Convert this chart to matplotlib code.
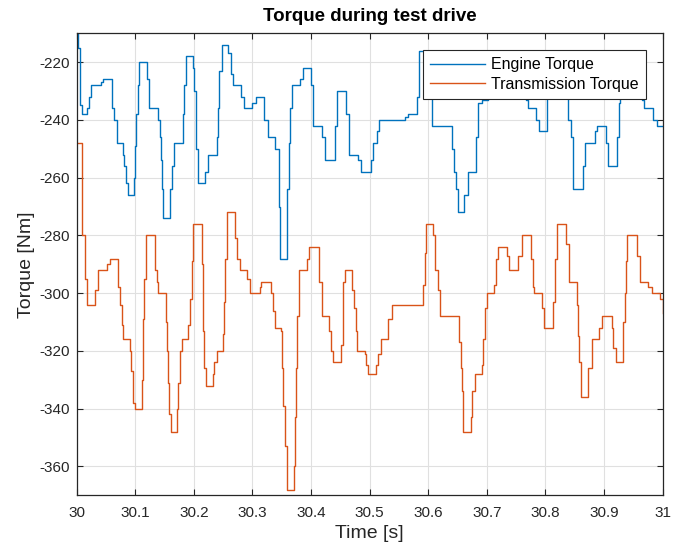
import matplotlib
matplotlib.use("Agg")
import matplotlib.pyplot as plt

# step breakpoints: value holds from each time until the next one
engine_t = [30.000, 30.003, 30.0057, 30.0085, 30.018, 30.021, 30.025, 30.041, 30.045,
            30.061, 30.064, 30.068, 30.0785, 30.081, 30.084, 30.087, 30.097, 30.100,
            30.102, 30.1045, 30.107, 30.1195, 30.124, 30.139, 30.1415, 30.1433, 30.145,
            30.148, 30.159, 30.162, 30.1667, 30.181, 30.1837, 30.1866, 30.198, 30.201,
            30.2036, 30.2076, 30.219, 30.2247, 30.239, 30.2406, 30.243, 30.2474, 30.259,
            30.263, 30.266, 30.280, 30.2855, 30.300, 30.3068, 30.320, 30.3267, 30.3387,
            30.3444, 30.3472, 30.3597, 30.3626, 30.3648, 30.3677, 30.3808, 30.3865,
            30.3995, 30.4035, 30.4189, 30.4234, 30.4405, 30.4445, 30.4604, 30.4644,
            30.4803, 30.486, 30.5014, 30.5048, 30.513, 30.5165, 30.560, 30.566, 30.580,
            30.584, 30.603, 30.606, 30.640, 30.6445, 30.6473, 30.650, 30.661, 30.668,
            30.681, 30.685, 30.691, 30.702, 30.709, 30.722, 30.727, 30.744, 30.748,
            30.762, 30.766, 30.770, 30.783, 30.789, 30.802, 30.806, 30.8205, 30.826,
            30.839, 30.843, 30.8475, 30.8646, 30.868, 30.8845, 30.8874, 30.9033, 30.907,
            30.9226, 30.925, 30.928, 30.940, 30.945, 30.964, 30.968, 30.984, 30.9897, 31.0]
engine_v = [-210, -215, -235, -238, -236, -232, -228, -227, -226,
            -236, -240, -248, -252, -256, -262, -266, -260, -249,
            -238, -228, -220, -226, -236, -240, -246, -254, -264,
            -274, -264, -256, -248, -238, -228, -218, -222, -230,
            -250, -262, -258, -252, -246, -236, -223, -214, -217,
            -224, -228, -232, -236, -234, -232, -240, -246, -250,
            -270, -288, -264, -248, -236, -228, -226, -222,
            -228, -242, -246, -254, -242, -230, -238, -252,
            -254, -258, -254, -248, -244, -240, -239, -238, -232,
            -216, -230, -242, -250, -258, -264, -272, -266, -258,
            -246, -234, -233, -228, -223, -226, -229, -224, -220,
            -226, -233, -236, -240, -244, -230, -216, -222, -230,
            -240, -246, -264, -256, -248, -244, -242, -248, -256,
            -246, -234, -222, -229, -232, -233, -236, -240, -242, -242]

trans_t = [30.000, 30.0097, 30.0148, 30.017, 30.0313, 30.037, 30.0512, 30.0569, 30.0711,
           30.074, 30.0768, 30.0785, 30.091, 30.0927, 30.0967, 30.0995, 30.1109, 30.1126,
           30.1138, 30.1155, 30.1177, 30.1337, 30.1365, 30.1394, 30.1524, 30.1536,
           30.1564, 30.1581, 30.1604, 30.1706, 30.1735, 30.1763, 30.1792, 30.1906,
           30.1934, 30.1962, 30.198, 30.2133, 30.2162, 30.2179, 30.2201, 30.2321,
           30.2349, 30.2389, 30.2503, 30.252, 30.2537, 30.2571, 30.2702, 30.274,
           30.2787, 30.29, 30.2958, 30.3125, 30.315, 30.3324, 30.3353, 30.3392, 30.3495,
           30.3512, 30.3529, 30.3557, 30.3592, 30.3597, 30.370, 30.3717, 30.3734,
           30.3762, 30.3791, 30.3922, 30.3967, 30.4132, 30.4189, 30.4308, 30.4337,
           30.4377, 30.4507, 30.4547, 30.4587, 30.4706, 30.4735, 30.4763, 30.4786,
           30.4917, 30.4945, 30.4974, 30.5116, 30.5144, 30.519, 30.5315, 30.5389,
           30.5912, 30.5941, 30.5969, 30.6083, 30.6111, 30.6168, 30.6197, 30.653,
           30.6553, 30.657, 30.6587, 30.6598, 30.6723, 30.6752, 30.6792, 30.6911,
           30.694, 30.6968, 30.6996, 30.7122, 30.7156, 30.7195, 30.7338, 30.7383,
           30.7537, 30.7594, 30.7747, 30.7781, 30.781, 30.7935, 30.798, 30.8123,
           30.8162, 30.8191, 30.835, 30.8407, 30.8532, 30.8549, 30.8572, 30.8606,
           30.8731, 30.8788, 30.8919, 30.8959, 30.913, 30.9158, 30.9203, 30.9317,
           30.9357, 30.9374, 30.9397, 30.9556, 30.9613, 30.9755, 30.9812, 30.9954, 31.0]
trans_v = [-248, -280, -295, -304, -299, -292, -290, -288, -298,
           -304, -311, -316, -320, -327, -338, -340, -330, -322,
           -309, -295, -280, -292, -296, -300, -310, -320,
           -331, -342, -348, -340, -331, -320, -316, -311,
           -302, -289, -276, -290, -313, -326, -332, -328,
           -324, -320, -314, -303, -288, -272, -281, -288,
           -292, -295, -300, -298, -296, -300, -306, -312, -313,
           -326, -339, -353, -364, -368, -360, -343, -326,
           -308, -292, -288, -284, -296, -308, -313, -320,
           -324, -318, -296, -292, -299, -305, -313, -320,
           -321, -325, -328, -325, -321, -316, -309, -304,
           -297, -286, -276, -280, -292, -299, -308, -317,
           -326, -334, -344, -348, -343, -334, -328, -325,
           -316, -305, -300, -297, -288, -284, -287, -292,
           -287, -280, -288, -298, -300, -305, -312, -303,
           -288, -276, -283, -296, -304, -315, -324, -336,
           -326, -316, -312, -308, -312, -319, -324, -310,
           -300, -289, -280, -287, -296, -298, -300, -302, -307]

x_ticks = [30, 30.1, 30.2, 30.3, 30.4, 30.5, 30.6, 30.7, 30.8, 30.9, 31]
x_tick_labels = ["30", "30.1", "30.2", "30.3", "30.4", "30.5", "30.6", "30.7", "30.8", "30.9", "31"]
y_ticks = [-360, -340, -320, -300, -280, -260, -240, -220]

axis_col = "#262626"
plt.rcParams["font.family"] = ["Liberation Sans", "DejaVu Sans"]
plt.rcParams["axes.unicode_minus"] = False

fig = plt.figure(figsize=(6.74, 5.52), dpi=100)
ax = fig.add_axes([0.1138, 0.1027, 0.8694, 0.837])

ax.plot(engine_t, engine_v, drawstyle="steps-post", color="#0072BD", lw=1.0, label="Engine Torque")
ax.plot(trans_t, trans_v, drawstyle="steps-post", color="#D95319", lw=1.0, label="Transmission Torque")

ax.set_xlim(30, 31)
ax.set_ylim(-370, -210)
ax.set_xticks(x_ticks)
ax.set_xticklabels(x_tick_labels)
ax.set_yticks(y_ticks)
ax.grid(True, color="#e0e0e0", lw=0.8)
ax.set_axisbelow(True)
ax.tick_params(direction="in", length=4, width=0.8, colors=axis_col, labelsize=11,
               top=True, right=True)
ax.tick_params(axis="x", pad=8)
ax.tick_params(axis="y", pad=5)
for s in ax.spines.values():
    s.set_color(axis_col)
    s.set_linewidth(0.9)

ax.set_title("Torque during test drive", fontsize=13.5, fontweight="bold", color="black", pad=9)
ax.set_xlabel("Time [s]", fontsize=14, color=axis_col, labelpad=3)
ax.set_ylabel("Torque [Nm]", fontsize=14, color=axis_col, labelpad=3)

leg = ax.legend(loc="upper right", bbox_to_anchor=(0.9715, 0.9639), borderaxespad=0,
                fancybox=False, framealpha=1, edgecolor=axis_col, fontsize=11.5,
                handlelength=3.4, handletextpad=0.4, borderpad=0.45, labelspacing=0.3)
leg.get_frame().set_linewidth(0.8)

fig.savefig("out.png", dpi=100)
